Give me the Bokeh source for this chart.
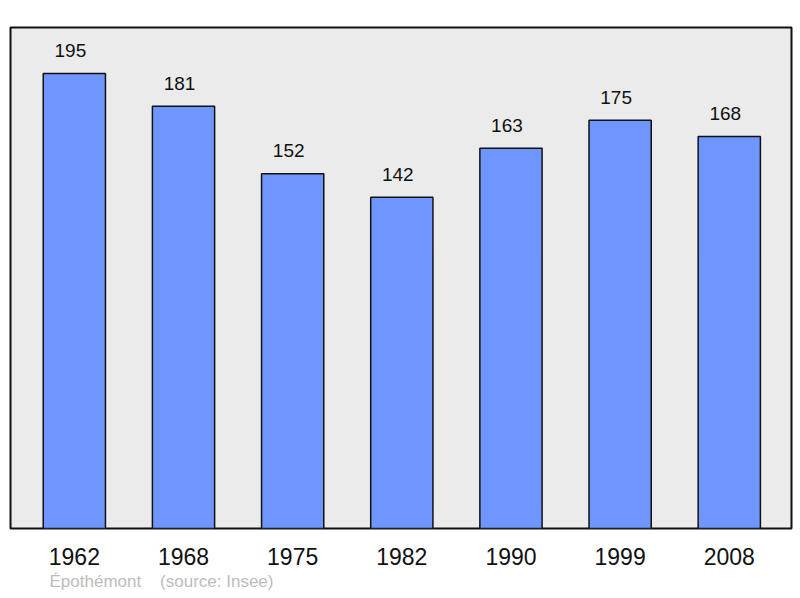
from bokeh.plotting import figure
from bokeh.models import ColumnDataSource, Range1d, LinearAxis, FixedTicker, Title
from bokeh.core.properties import value
from bokeh.embed import file_html
from bokeh.resources import INLINE

years = ["1962", "1968", "1975", "1982", "1990", "1999", "2008"]
population = [195, 181, 152, 142, 163, 175, 168]
place = "Épothémont"
source_note = "(source: Insee)"

xs = list(range(len(years)))
src = ColumnDataSource(dict(x=xs, top=population, lbl=[str(v) for v in population]))

p = figure(width=800, height=598, output_backend="svg", toolbar_location=None,
           x_range=Range1d(-0.585, 6.57), y_range=Range1d(0, 214.7),
           min_border_left=10, min_border_right=9, min_border_top=27, min_border_bottom=70,
           x_axis_location=None, y_axis_location=None)
p.background_fill_color = "#ebebeb"
p.border_fill_color = "white"
p.outline_line_color = "#111111"
p.outline_line_width = 2
p.xgrid.visible = False
p.ygrid.visible = False

p.vbar(x="x", top="top", bottom=0, width=0.57, source=src,
       fill_color="#6f96ff", line_color="#111111", line_width=1.5)

p.text(x="x", y="top", text="lbl", source=src, text_align="center",
       text_baseline="alphabetic", x_offset=-4, y_offset=-23,
       text_font=value("Liberation Sans"),
       text_font_size="19px", text_color="#111111")

ax = LinearAxis(ticker=FixedTicker(ticks=xs),
                major_label_overrides={i: y for i, y in enumerate(years)})
ax.axis_line_color = None
ax.major_tick_line_color = None
ax.minor_tick_line_color = None
ax.major_label_text_font = "Liberation Sans"
ax.major_label_text_font_size = "23px"
ax.major_label_text_color = "#111111"
ax.major_label_standoff = 13
p.add_layout(ax, "below")

footer = place + "\u00a0\u00a0\u00a0\u00a0" + source_note
p.add_layout(Title(text=footer, text_font="Liberation Sans",
                   text_font_size="17px", text_color="#bcbcbc", text_font_style="normal",
                   align="left", offset=39, standoff=5), "below")

open("out.html", "w").write(file_html(p, INLINE))
